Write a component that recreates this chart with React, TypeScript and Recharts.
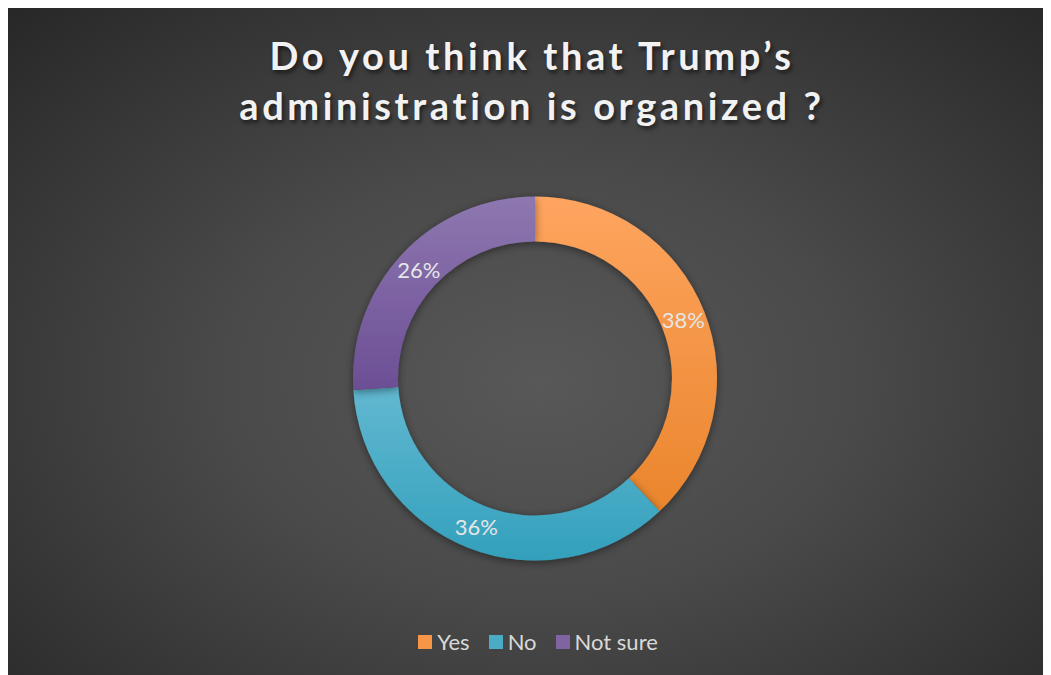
import React from "react";
import { PieChart, Pie, Cell, Legend } from "recharts";

const categories = ["Yes", "No", "Not sure"];
const values = [38, 36, 26];
const titleLines = ["Do you think that Trump’s", "administration is organized ?"];

const colorTop = ["#FEA560", "#62B8D1", "#8E78B0"];
const colorBottom = ["#EA852C", "#33A0BC", "#6C4E95"];
const legendColors = ["#F79646", "#4BACC6", "#8064A2"];

const data = categories.map((name, i) => ({ name, value: values[i] }));

const W = 1042;
const H = 667;
const RAD = Math.PI / 180;

const renderLabel = (props: any) => {
  const { cx, cy, midAngle, innerRadius, outerRadius, value } = props;
  const r = (innerRadius + outerRadius) / 2;
  const x = cx + r * Math.cos(-midAngle * RAD);
  const y = cy + r * Math.sin(-midAngle * RAD);
  return (
    <text
      x={x}
      y={y}
      fill="#E6E6E6"
      fontSize={22}
      fontFamily="Lato, 'Open Sans', sans-serif"
      textAnchor="middle"
      dominantBaseline="central"
    >
      {`${value}%`}
    </text>
  );
};

const LegendContent = () => (
  <div
    style={{
      display: "flex",
      justifyContent: "center",
      alignItems: "center",
      fontFamily: "Lato, 'Open Sans', sans-serif",
      fontSize: 22,
      lineHeight: "28px",
      color: "#D9D9D9",
      paddingLeft: 18,
    }}
  >
    {categories.map((c, i) => (
      <div key={c} style={{ display: "flex", alignItems: "center", marginRight: i < categories.length - 1 ? 19 : 0 }}>
        <span style={{ display: "inline-block", width: 14, height: 14, background: legendColors[i], marginRight: 5 }} />
        <span>{c}</span>
      </div>
    ))}
  </div>
);

export default function App() {
  return (
    <div
      style={{
        position: "relative",
        width: W,
        height: H,
        background: "radial-gradient(ellipse 75% 80% at 51% 56%, #585858 0%, #4a4a4a 40%, #353535 75%, #262626 100%)",
        overflow: "hidden",
      }}
    >
      <div
        style={{
          position: "absolute",
          left: 0,
          top: 22,
          width: W,
          textAlign: "center",
          fontFamily: "Lato, 'Open Sans', sans-serif",
          fontWeight: 700,
          fontSize: 38,
          lineHeight: "50px",
          letterSpacing: 3.6,
          color: "#F2F2F2",
          textShadow: "2px 3px 4px rgba(0,0,0,0.55)",
          paddingLeft: 6,
          boxSizing: "border-box",
        }}
      >
        {titleLines.map((l) => (
          <div key={l}>{l}</div>
        ))}
      </div>
      <div style={{ position: "absolute", left: 0, top: 0 }}>
        <PieChart width={W} height={H} margin={{ top: 0, right: 0, bottom: 0, left: 0 }}>
          <defs>
            {categories.map((c, i) => (
              <linearGradient key={c} id={`grad${i}`} x1="0" y1="0" x2="0" y2="1">
                <stop offset="0%" stopColor={colorTop[i]} />
                <stop offset="100%" stopColor={colorBottom[i]} />
              </linearGradient>
            ))}
            <filter id="shadow" x="-10%" y="-10%" width="120%" height="120%">
              <feDropShadow dx="0" dy="2" stdDeviation="4" floodColor="#000" floodOpacity="0.45" />
            </filter>
          </defs>
          <Pie
            data={data}
            dataKey="value"
            nameKey="name"
            cx={527}
            cy={370.5}
            innerRadius={137}
            outerRadius={182}
            startAngle={90}
            endAngle={-270}
            stroke="none"
            label={renderLabel}
            labelLine={false}
            isAnimationActive={false}
            style={{ filter: "url(#shadow)" }}
          >
            {data.map((d, i) => (
              <Cell key={d.name} fill={`url(#grad${i})`} />
            ))}
          </Pie>
          <Legend
            content={<LegendContent />}
            verticalAlign="bottom"
            wrapperStyle={{ top: 620, bottom: "auto", left: 0, width: W }}
          />
        </PieChart>
      </div>
    </div>
  );
}
